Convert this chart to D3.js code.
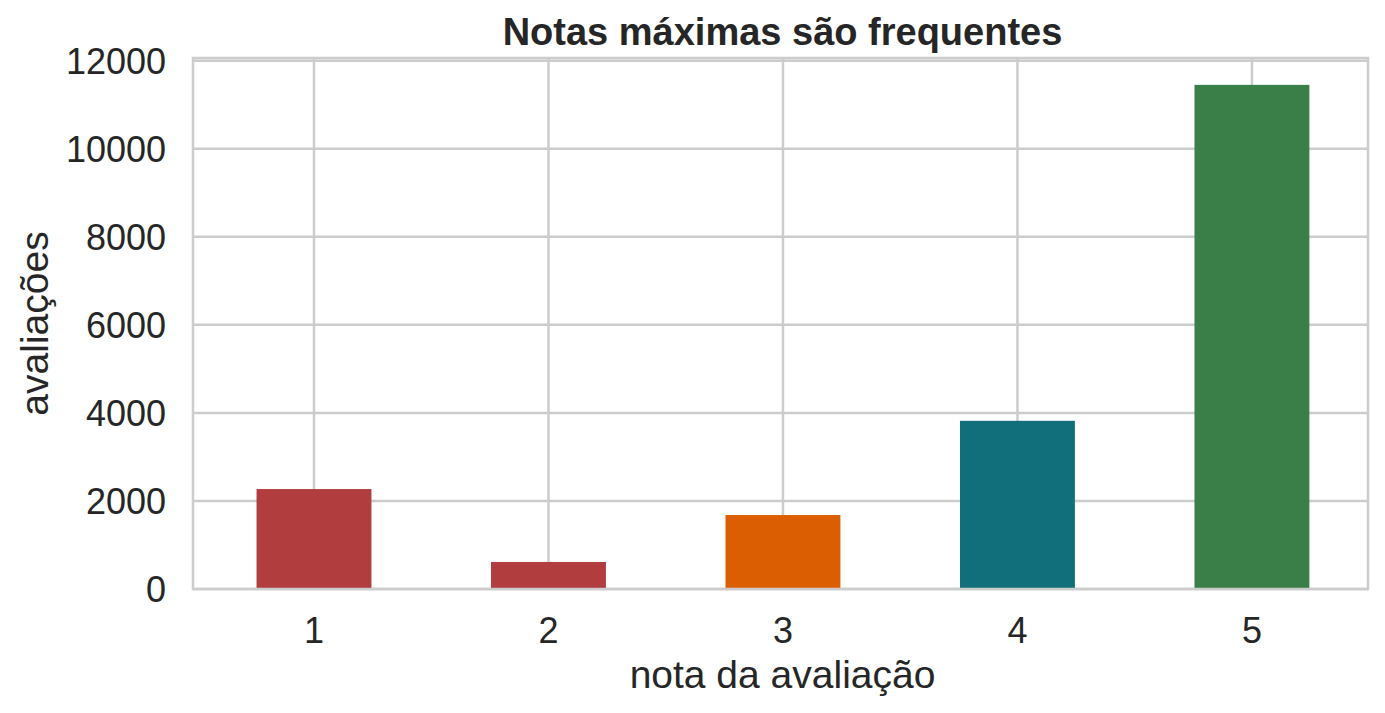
<!DOCTYPE html>
<html><head><meta charset="utf-8">
<script src="https://cdn.jsdelivr.net/npm/d3@7"></script>
<style>body{margin:0;background:#fff;font-family:"Liberation Sans",Arial,sans-serif;}</style>
</head><body><svg id="c" width="1385" height="713"></svg>
<script>
var notas = [1, 2, 3, 4, 5];
var avaliacoes = [2270, 614, 1680, 3820, 11450];
var cores = ["#b23d3f", "#b23d3f", "#db5f02", "#116f7c", "#3a7f47"];
var yTicks = [0, 2000, 4000, 6000, 8000, 10000, 12000];

var svg = d3.select("#c");
var L = 193, R = 1368, T = 58, B = 589;
var x = d3.scaleLinear().domain([0.484, 5.495]).range([L, R]);
var y = d3.scaleLinear().domain([0, 12060]).range([B, T]);

// grid
svg.append("g").selectAll("line").data(yTicks).enter().append("line")
  .attr("x1", L).attr("x2", R).attr("y1", d => y(d)).attr("y2", d => y(d))
  .attr("stroke", "#cccccc").attr("stroke-width", 2.5);
svg.append("g").selectAll("line").data(notas).enter().append("line")
  .attr("x1", d => x(d)).attr("x2", d => x(d)).attr("y1", T).attr("y2", B)
  .attr("stroke", "#cccccc").attr("stroke-width", 2.5);

// bars
svg.append("g").selectAll("rect").data(notas).enter().append("rect")
  .attr("x", d => x(d - 0.245)).attr("width", x(0.49) - x(0))
  .attr("y", (d, i) => y(avaliacoes[i])).attr("height", (d, i) => B - y(avaliacoes[i]))
  .attr("fill", (d, i) => cores[i]);

// frame
svg.append("rect").attr("x", L).attr("y", T).attr("width", R - L).attr("height", B - T)
  .attr("fill", "none").attr("stroke", "#cccccc").attr("stroke-width", 2.5);

var tc = "#262626";
svg.append("g").selectAll("text").data(yTicks).enter().append("text")
  .attr("x", L - 27).attr("y", d => y(d)).attr("dy", "0.36em").attr("text-anchor", "end")
  .attr("font-size", 36).attr("fill", tc).text(d => d);
svg.append("g").selectAll("text").data(notas).enter().append("text")
  .attr("x", d => x(d)).attr("y", 643).attr("text-anchor", "middle")
  .attr("font-size", 36).attr("fill", tc).text(d => d);

svg.append("text").attr("x", (L + R) / 2 + 2).attr("y", 688).attr("text-anchor", "middle")
  .attr("font-size", 39).attr("fill", tc).text("nota da avaliação");
svg.append("text").attr("transform", "translate(48," + (T + B) / 2 + ") rotate(-90)")
  .attr("text-anchor", "middle").attr("font-size", 39).attr("fill", tc).text("avaliações");
svg.append("text").attr("x", (L + R) / 2 + 2).attr("y", 45).attr("text-anchor", "middle")
  .attr("font-size", 38).attr("font-weight", "bold").attr("fill", tc).text("Notas máximas são frequentes");
</script></body></html>
